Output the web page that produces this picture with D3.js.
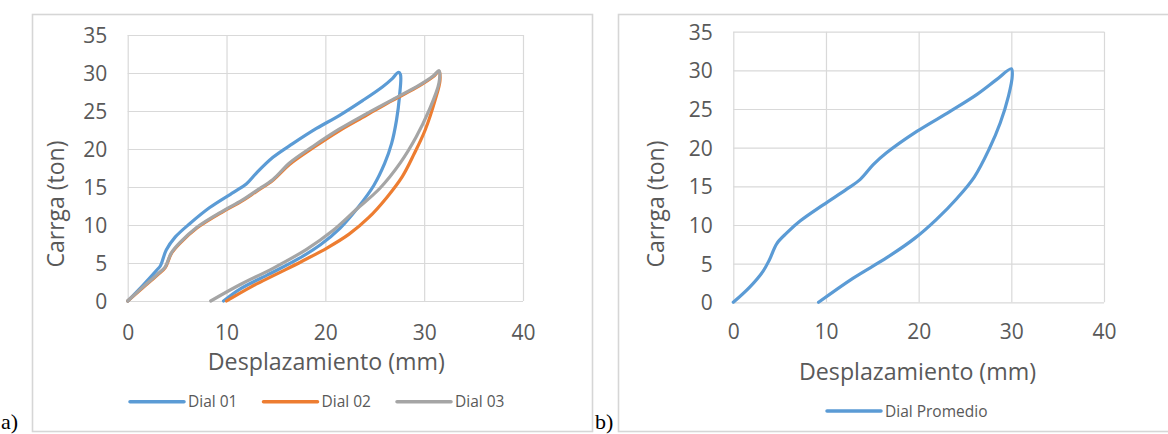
<!DOCTYPE html>
<html>
<head>
<meta charset="utf-8">
<script src="https://cdn.jsdelivr.net/npm/d3@7"></script>
<style>
  html, body { margin: 0; padding: 0; background: #fff; }
  svg { display: block; }
  text { font-family: "Open Sans", "DejaVu Sans", sans-serif; fill: #595959; }
</style>
</head>
<body>
<svg id="fig" width="1168" height="434"></svg>
<script>
// Axis ticks
const xTicks = [0, 10, 20, 30, 40];
const yTicks = [0, 5, 10, 15, 20, 25, 30, 35];

// Load–unload loops: [desplazamiento (mm), carga (ton)]
const dial01 = [
  [0, 0], [1.5, 2.0], [2.9, 4.0], [3.3, 4.6], [3.9, 6.7], [4.8, 8.4], [6.3, 10.2],
  [8.3, 12.3], [10.7, 14.3], [12.0, 15.4], [13.0, 16.8], [14.7, 18.9], [16.7, 20.7],
  [19.1, 22.7], [21.4, 24.4], [23.8, 26.4], [25.8, 28.2], [26.8, 29.3], [27.4, 30.1],
  [27.6, 29.8], [27.5, 26.9], [27.2, 23.8], [26.7, 20.7], [26.0, 18.1], [24.9, 15.2],
  [23.3, 12.3], [21.5, 9.6], [19.5, 7.4], [17.2, 5.5], [14.1, 3.4], [11.4, 1.6], [9.7, 0]
];
const dial02 = [
  [0, 0], [1.5, 1.7], [3.0, 3.4], [3.8, 4.4], [4.4, 6.2], [5.3, 7.6], [7.0, 9.6],
  [9.7, 11.8], [11.5, 13.1], [13.0, 14.4], [14.7, 15.9], [16.4, 18.0], [18.8, 20.2],
  [21.4, 22.4], [24.1, 24.4], [26.8, 26.4], [29.5, 28.3], [30.9, 29.5], [31.5, 30.2],
  [31.6, 29.0], [31.1, 26.4], [30.1, 22.5], [29.0, 19.4], [27.8, 16.4], [26.2, 13.6],
  [24.4, 11.0], [22.4, 8.8], [20.2, 7.0], [17.6, 5.2], [15.0, 3.5], [12.4, 1.8], [10.0, 0]
];
const dial03 = [
  [0, 0], [1.5, 1.8], [3.0, 3.5], [3.8, 4.5], [4.4, 6.3], [5.3, 7.7], [7.0, 9.7],
  [9.7, 11.9], [11.5, 13.2], [13.0, 14.5], [14.7, 16.0], [16.4, 18.2], [18.8, 20.4],
  [21.4, 22.6], [24.1, 24.6], [26.8, 26.5], [29.5, 28.4], [30.9, 29.6], [31.5, 30.3],
  [31.5, 28.7], [30.5, 25.1], [29.2, 21.6], [27.6, 18.2], [25.5, 14.8], [23.1, 12.0],
  [20.8, 9.3], [18.1, 6.8], [14.7, 4.3], [11.3, 2.1], [8.4, 0]
];
const dialPromedio = [
  [0, 0], [1.8, 2.0], [3.2, 4.0], [3.9, 5.5], [4.7, 7.6], [5.8, 9.0], [7.2, 10.5],
  [9.7, 12.6], [12.2, 14.6], [13.7, 15.9], [15.1, 17.8], [16.5, 19.3], [19.8, 22.1],
  [23.4, 24.7], [26.3, 26.9], [28.4, 28.8], [30.0, 30.2],
  [30.1, 29.3], [29.7, 26.7], [28.8, 23.2], [27.6, 19.8], [26.0, 16.2], [24.1, 13.4],
  [21.9, 10.7], [19.6, 8.3], [16.6, 5.8], [12.9, 3.1], [9.2, 0]
];

const seriesNamesA = ["Dial 01", "Dial 02", "Dial 03"];
const seriesNamesB = ["Dial Promedio"];
const xTitle = "Desplazamiento (mm)";
const yTitle = "Carrga (ton)";

const svg = d3.select("#fig");

// Panel frames
svg.append("rect").attr("x", 32.5).attr("y", 14.5).attr("width", 560).attr("height", 417)
  .attr("fill", "none").attr("stroke", "#d6d6d6").attr("stroke-width", 1.6);
svg.append("rect").attr("x", 618.5).attr("y", 14.5).attr("width", 560).attr("height", 417)
  .attr("fill", "none").attr("stroke", "#d6d6d6").attr("stroke-width", 1.6);

// Panel letters
svg.append("text").attr("x", 1).attr("y", 429).text("a)")
  .style("font-family", "'Liberation Serif', 'Times New Roman', serif")
  .style("font-size", "22px").style("fill", "#000");
svg.append("text").attr("x", 595).attr("y", 429).text("b)")
  .style("font-family", "'Liberation Serif', 'Times New Roman', serif")
  .style("font-size", "22px").style("fill", "#000");

function drawPanel(cfg) {
  const x = d3.scaleLinear().domain([0, 40]).range(cfg.xRange);
  const y = d3.scaleLinear().domain([0, 35]).range(cfg.yRange);
  const g = svg.append("g");

  // Gridlines (also form the plot-area box)
  g.append("g").attr("transform", `translate(0,${cfg.yRange[1]})`)
    .call(d3.axisBottom(x).tickValues(xTicks).tickSize(cfg.yRange[0] - cfg.yRange[1]).tickFormat(""))
    .call(a => a.select(".domain").remove())
    .call(a => a.selectAll("line").attr("stroke", "#d9d9d9").attr("stroke-width", 1.2));
  g.append("g").attr("transform", `translate(${cfg.xRange[0]},0)`)
    .call(d3.axisRight(y).tickValues(yTicks).tickSize(cfg.xRange[1] - cfg.xRange[0]).tickFormat(""))
    .call(a => a.select(".domain").remove())
    .call(a => a.selectAll("line").attr("stroke", "#d9d9d9").attr("stroke-width", 1.2));

  // Tick labels
  const xa = g.append("g").attr("transform", `translate(0,${cfg.yRange[0]})`)
    .call(d3.axisBottom(x).tickValues(xTicks).tickSize(0).tickPadding(0));
  xa.select(".domain").remove();
  xa.selectAll("text").attr("y", 339.5 - cfg.yRange[0]).attr("dy", 0)
    .style("font-size", "21px").style("fill", "#595959").style("font-family", "'Open Sans', sans-serif");

  const ya = g.append("g").attr("transform", `translate(${cfg.xRange[0]},0)`)
    .call(d3.axisLeft(y).tickValues(yTicks).tickSize(0).tickPadding(20.5));
  ya.select(".domain").remove();
  ya.selectAll("text").attr("dy", "0.36em")
    .style("font-size", "21px").style("fill", "#595959").style("font-family", "'Open Sans', sans-serif");

  // Axis titles
  g.append("text").attr("x", cfg.xTitle[0]).attr("y", cfg.xTitle[1])
    .attr("text-anchor", "middle").style("font-size", "23.2px").text(xTitle);
  g.append("text").attr("transform", `translate(${cfg.yTitle[0]},${cfg.yTitle[1]}) rotate(-90)`)
    .attr("text-anchor", "middle").style("font-size", "23px").text(yTitle);

  // Curves
  const line = d3.line().x(d => x(d[0])).y(d => y(d[1])).curve(d3.curveCatmullRom.alpha(0.5));
  cfg.series.forEach(s => {
    g.append("path").datum(s.data).attr("d", line)
      .attr("fill", "none").attr("stroke", s.color).attr("stroke-width", 3.2)
      .attr("stroke-linecap", "round").attr("stroke-linejoin", "round");
  });

  // Legend
  cfg.series.forEach((s, i) => {
    const lx = cfg.legend[i];
    g.append("line").attr("x1", lx).attr("x2", lx + 54)
      .attr("y1", cfg.legendY).attr("y2", cfg.legendY)
      .attr("stroke", s.color).attr("stroke-width", 3.5).attr("stroke-linecap", "round");
    g.append("text").attr("x", lx + 58).attr("y", cfg.legendY + 5.5)
      .style("font-size", "15.5px").text(s.name);
  });
}

drawPanel({
  xRange: [127.7, 523], yRange: [301, 35],
  xTitle: [326.3, 370], yTitle: [64, 204],
  legendY: 401.7, legend: [130, 263.5, 397],
  series: [
    { name: seriesNamesA[0], data: dial01, color: "#5b9bd5" },
    { name: seriesNamesA[1], data: dial02, color: "#ed7d31" },
    { name: seriesNamesA[2], data: dial03, color: "#a5a5a5" }
  ]
});

drawPanel({
  xRange: [733.3, 1104], yRange: [302.3, 31.7],
  xTitle: [917.5, 380], yTitle: [664, 204],
  legendY: 411, legend: [827],
  series: [
    { name: seriesNamesB[0], data: dialPromedio, color: "#5b9bd5" }
  ]
});
</script>
</body>
</html>
